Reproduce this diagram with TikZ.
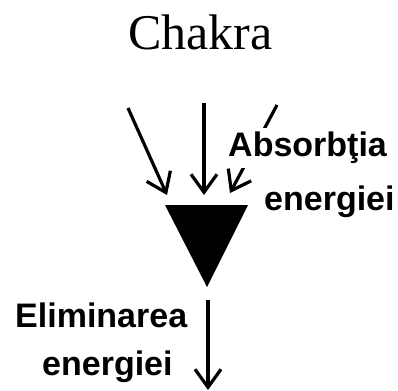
\documentclass[tikz,border=0pt]{standalone}
\usepackage{fontspec}
\setmainfont{Liberation Serif}
\newfontfamily\labelsans{Liberation Sans}
\usetikzlibrary{arrows.meta}

\begin{document}
\begin{tikzpicture}[x=1pt, y=-1pt, >={Straight Barb[length=18pt, width=26pt]}]

\tikzstyle{flow} = [->, line width=3.2pt]
\tikzstyle{energytext} = [font=\labelsans\bfseries\fontsize{34}{40}\selectfont, inner sep=0pt, anchor=base west]

\useasboundingbox (0,0) rectangle (398,390);

% --- Titel
\node[font=\fontsize{50}{60}\selectfont, anchor=base] (title) at (200.5,50) {Chakra};

% --- Chakra (Dreieck)
\coordinate (tri_l) at (165,205);
\coordinate (tri_r) at (248,205);
\coordinate (tri_b) at (207,287);
\fill (tri_l) -- (tri_r) -- (tri_b) -- cycle;

% --- Absorbtia energiei
\coordinate (in1_start) at (128,108);
\coordinate (in1_end) at (167,195);
\coordinate (in2_start) at (204,103);
\coordinate (in2_end) at (204,195);
\coordinate (in3_start) at (277,105);
\coordinate (in3_end) at (230,193);

\draw[flow] (in1_start) -- (in1_end);
\draw[flow] (in2_start) -- (in2_end);
\draw[flow] (in3_start) -- (in3_end);

\node[energytext, fill=white, inner sep=4pt] (absorb) at (224,157) {Absorbţia};
\node[energytext] (absorb_en) at (264,210) {energiei};

% --- Eliminarea energiei
\coordinate (out_start) at (208,300);
\coordinate (out_end) at (208,390);
\draw[flow] (out_start) -- (out_end);

\node[energytext] (elim) at (15,327) {Eliminarea};
\node[energytext] (elim_en) at (42,375) {energiei};

\end{tikzpicture}
\end{document}
